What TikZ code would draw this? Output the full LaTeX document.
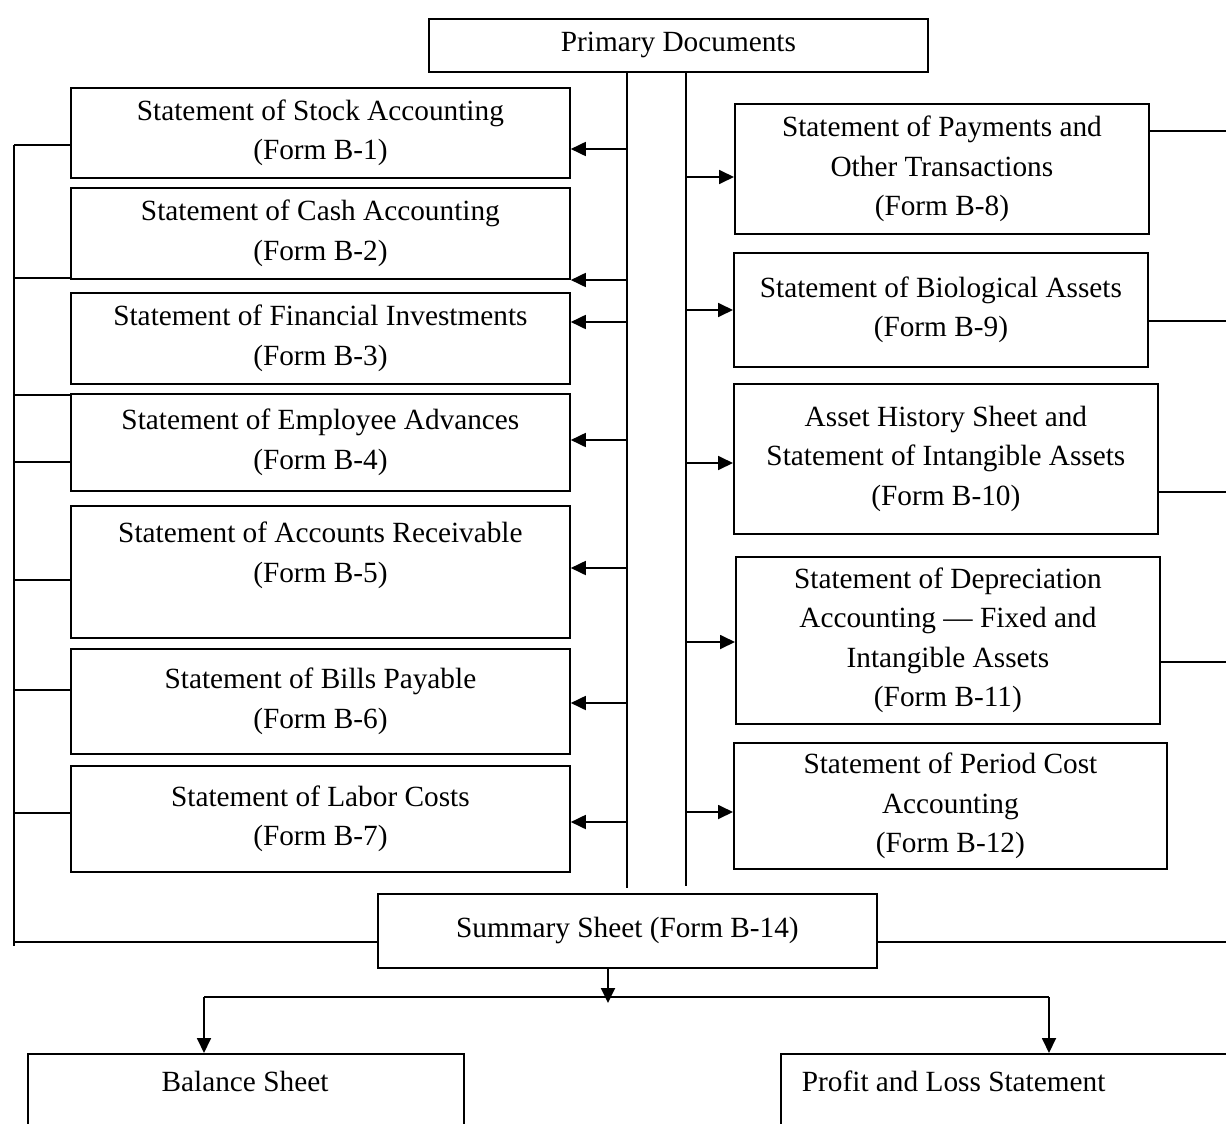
\documentclass[tikz,border=0pt]{standalone}
\usepackage{fontspec}
\setmainfont{Liberation Serif}
\usetikzlibrary{arrows.meta}

\begin{document}
\begin{tikzpicture}[x=1pt, y=-1pt, line width=1.8pt,
  every node/.style={font=\fontsize{29.3}{39.5}\selectfont},
  box/.style={draw, line width=1.8pt, align=center, anchor=north west, inner sep=2pt},
  arr/.style={-{Triangle[length=15pt,width=14pt]}}]
  \useasboundingbox (0,0) rectangle (1226,1124);
  \clip (0,0) rectangle (1226,1124);
  \node[box, minimum width=499, minimum height=53] (pd) at (428,18) {Primary Documents};
  % left column
  \node[box, minimum width=499, minimum height=90] (s1) at (70,87) {Statement of Stock Accounting\\(Form B-1)};
  \node[box, minimum width=499, minimum height=91] (s2) at (70,187) {Statement of Cash Accounting\\(Form B-2)};
  \node[box, minimum width=499, minimum height=91] (s3) at (70,292) {Statement of Financial Investments\\(Form B-3)};
  \node[box, minimum width=499, minimum height=97] (s4) at (70,393) {Statement of Employee Advances\\(Form B-4)};
  \node[box, minimum width=499, minimum height=132] (s5) at (70,505) {Statement of Accounts Receivable\\(Form B-5)\\~};
  \node[box, minimum width=499, minimum height=105] (s6) at (70,648) {Statement of Bills Payable\\(Form B-6)};
  \node[box, minimum width=499, minimum height=106] (s7) at (70,765) {Statement of Labor Costs\\(Form B-7)};
  % right column
  \node[box, minimum width=414, minimum height=130] (s8) at (734,103) {Statement of Payments and\\Other Transactions\\(Form B-8)};
  \node[box, minimum width=414, minimum height=114] (s9) at (733,252) {Statement of Biological Assets\\(Form B-9)};
  \node[box, minimum width=424, minimum height=150] (s10) at (733,383) {Asset History Sheet and\\Statement of Intangible Assets\\(Form B-10)};
  \node[box, minimum width=424, minimum height=167] (s11) at (735,556) {Statement of Depreciation\\Accounting --- Fixed and\\Intangible Assets\\(Form B-11)};
  \node[box, minimum width=433, minimum height=126] (s12) at (733,742) {Statement of Period Cost\\Accounting\\(Form B-12)};
  \node[box, minimum width=499, minimum height=74] (sum) at (377,893) {Summary Sheet (Form B-14)};
  % bottom
  \node[box, minimum width=436, minimum height=120] (bs) at (27,1053) {};
  \node (bst) at (245,1081) {Balance Sheet};
  \node[box, minimum width=500, minimum height=120] (pl) at (780,1053) {};
  \node[anchor=west, inner sep=0pt] (plt) at (801,1081) {Profit and Loss Statement};

  \coordinate (lt) at (627,888);
  \coordinate (rt) at (686,886);
  \coordinate (lb) at (14,145);
  \coordinate (lbb) at (14,946);
  \coordinate (re) at (1240,0);
  \draw (pd.south -| lt) -- (lt);
  \draw (pd.south -| rt) -- (rt);
  \draw (lb) -- (lbb);
  \foreach \n/\y in {s1/149, s2/280, s3/322, s4/440, s5/568, s6/703, s7/822} {
    \coordinate (a) at (0,\y);
    \draw[arr] (lt |- a) -- (\n.east |- a);
  }
  \foreach \n/\y in {s8/177, s9/310, s10/463, s11/642, s12/812} {
    \coordinate (a) at (0,\y);
    \draw[arr] (rt |- a) -- (\n.west |- a);
  }
  \foreach \n/\y in {s1/145, s2/278, s3/395, s4/462, s5/580, s6/690, s7/813} {
    \coordinate (a) at (0,\y);
    \draw (lb |- a) -- (\n.west |- a);
  }
  \foreach \n/\y in {s8/131, s9/321, s10/492, s11/662} {
    \coordinate (a) at (0,\y);
    \draw (\n.east |- a) -- (re |- a);
  }
  \coordinate (a) at (0,942);
  \draw (lb |- a) -- (sum.west |- a);
  \draw (sum.east |- a) -- (re |- a);
  % to the statements
  \coordinate (sp) at (608,997);
  \coordinate (bl) at (204,997);
  \coordinate (br) at (1049,997);
  \draw[arr] (sum.south -| sp) -- ([yshift=-6pt]sp);
  \draw (bl) -- (br);
  \draw[arr] (bl) -- (bl |- bs.north);
  \draw[arr] (br) -- (br |- pl.north);
\end{tikzpicture}
\end{document}
